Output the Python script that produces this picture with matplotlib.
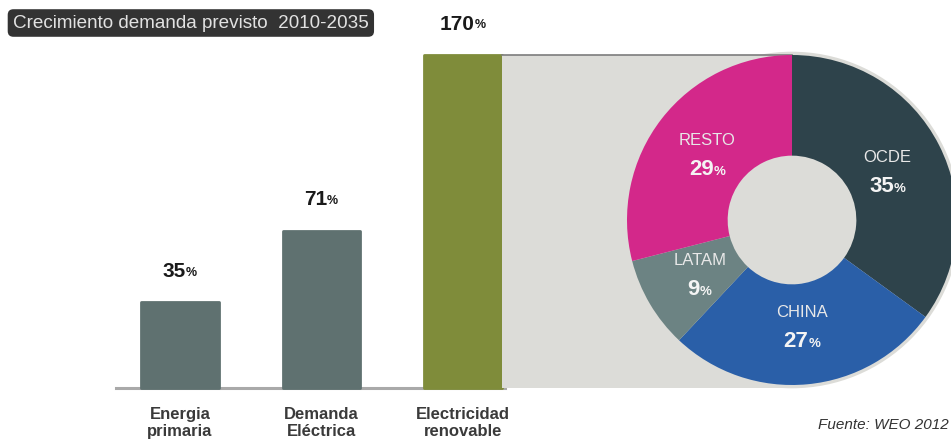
import numpy as np
import matplotlib
matplotlib.use('agg')
import matplotlib.pyplot as plt
from matplotlib.patches import Rectangle, Circle

# data
categories = ['Energia\nprimaria', 'Demanda\nEléctrica', 'Electricidad\nrenovable']
growth = [35, 71, 170]
bar_colors = ['#5f7170', '#5f7170', '#7f8c3a']

regions = ['OCDE', 'CHINA', 'LATAM', 'RESTO']
shares = [35, 27, 9, 29]
region_colors = ['#2e434b', '#2a5fa8', '#6c8383', '#d3288a']

W, H = 951, 441
plt.rcParams['font.family'] = ['Liberation Sans', 'DejaVu Sans']
fig = plt.figure(figsize=(W / 100, H / 100), dpi=100)
fig.patch.set_facecolor('white')

# the bars are not drawn to scale in the original, a soft power scale mimics it
p = 0.86
fwd = lambda v: np.sign(v) * np.abs(v) ** p
inv = lambda v: np.sign(v) * np.abs(v) ** (1 / p)

base_px, top_px = 388, 55
ax = fig.add_axes([0, (H - base_px) / H, 1, (base_px - top_px) / H])
ax.set_facecolor('none')
step, x0 = 141.5, 180
ax.set_xlim(-x0 / step, (W - x0) / step)
ax.set_yscale('function', functions=(fwd, inv))
ax.set_ylim(0, max(growth))

x = np.arange(len(growth))
bw = 0.55
bars = ax.bar(x, growth, width=bw, color=bar_colors, edgecolor=bar_colors,
              linewidth=2, joinstyle='round', zorder=3)
for b in bars:
    b.set_clip_on(False)

for i, v in enumerate(growth):
    t = ax.annotate(str(v), xy=(i, v), xytext=(-6, 31), textcoords='offset pixels',
                    ha='center', va='center', fontsize=15, fontweight='bold',
                    color='#1a1a1a', annotation_clip=False)
    ax.annotate('%', xy=(1.0, 0.12), xycoords=t, ha='left', va='bottom',
                fontsize=9, fontweight='bold', color='#1a1a1a')

ax.set_xticks(x)
ax.set_xticklabels(categories, fontsize=12, fontweight='bold', color='#3a3a3a',
                   linespacing=1.15)
ax.tick_params(axis='x', length=0, pad=14)
ax.set_yticks([])
for s in ['left', 'right', 'top']:
    ax.spines[s].set_visible(False)
ax.spines['bottom'].set_bounds(-0.45, 2.3)
ax.spines['bottom'].set_color('#a9a9a9')
ax.spines['bottom'].set_linewidth(2.2)

# donut
cx, cy, r = 792, 220, 165
pax = fig.add_axes([(cx - r) / W, (H - cy - r) / H, 2 * r / W, 2 * r / H], zorder=2)

wedges, _ = pax.pie(shares, colors=region_colors, startangle=90, counterclock=False,
                    radius=1, wedgeprops=dict(width=0.61, edgecolor='none'))
pax.set_xlim(-1, 1)
pax.set_ylim(-1, 1)
pax.set_aspect('equal')
pax.axis('off')
for w in wedges:
    w.set_clip_on(False)
    w.set_zorder(2)

grey = '#dcdcd8'
left = ((x0 + step * 2 + step * bw / 2) - cx) / r
bottom = -(base_px - cy) / r
pax.add_patch(Rectangle((left, bottom), -left, 1 - bottom, facecolor=grey,
                        edgecolor='none', clip_on=False, zorder=0))
pax.add_patch(Circle((0, 0), 1.02, facecolor=grey, edgecolor='none', clip_on=False, zorder=0))
pax.plot([left, 0], [1, 1], color='#7d7d7d', lw=1.2, clip_on=False, zorder=1)

for w, name, s in zip(wedges, regions, shares):
    ang = np.deg2rad((w.theta1 + w.theta2) / 2)
    lx, ly = 0.65 * np.cos(ang), 0.65 * np.sin(ang)
    pax.text(lx, ly + 0.085, name, ha='center', va='center', fontsize=12,
             color='#e8e8e8', zorder=4)
    t = pax.annotate(str(s), xy=(lx, ly - 0.09), xytext=(-6, 0), textcoords='offset pixels',
                     ha='center', va='center', fontsize=16, fontweight='bold',
                     color='#f4f4f4', zorder=4)
    pax.annotate('%', xy=(1.0, 0.1), xycoords=t, ha='left', va='bottom',
                 fontsize=9.5, fontweight='bold', color='#f4f4f4', zorder=4)

# title box and source
fig.text(13 / W, 1 - 23 / H, 'Crecimiento demanda previsto  2010-2035', ha='left',
         va='center', fontsize=13.6, color='#e2e2e2',
         bbox=dict(boxstyle='round,pad=0.28,rounding_size=0.3', facecolor='#333333',
                   edgecolor='none'))
fig.text(818 / W, 1 - 425 / H, 'Fuente: WEO 2012', ha='left', va='center',
         fontsize=11, style='italic', color='#333333')

fig.savefig('out.png', dpi=100)
